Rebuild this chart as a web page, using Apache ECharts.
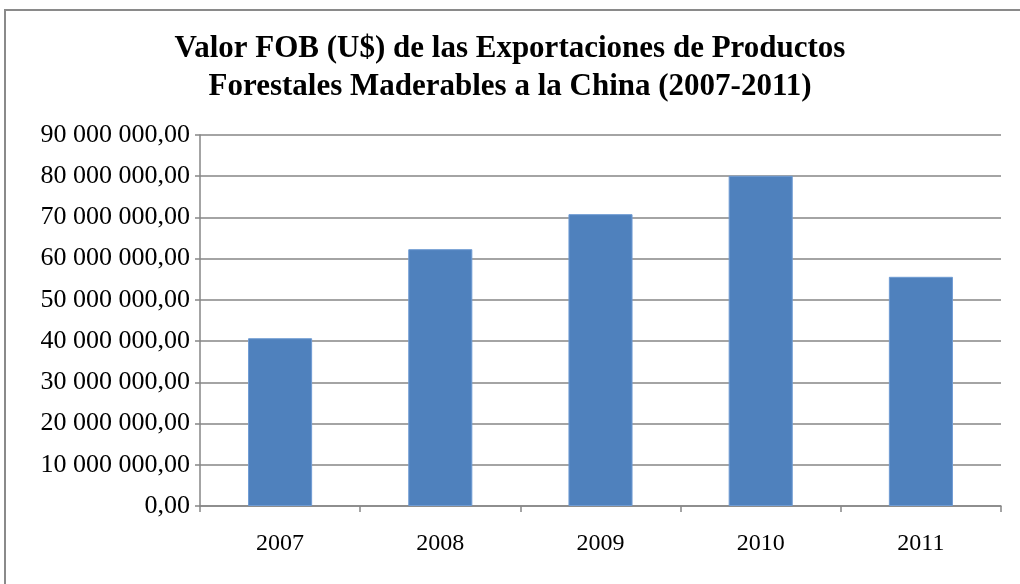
<!DOCTYPE html>
<html><head><meta charset="utf-8">
<script src="https://cdn.jsdelivr.net/npm/echarts@6/dist/echarts.min.js"></script>
<style>html,body{margin:0;padding:0;background:#fff}#c{width:1020px;height:584px}
#frame{position:absolute;left:4px;top:9px;width:1030px;height:600px;border:2px solid #8a8a8a;box-sizing:border-box;pointer-events:none}</style>
</head><body><div id="c"></div><div id="frame"></div>
<script>
const titleLines = ["Valor FOB (U$) de las Exportaciones de Productos", "Forestales Maderables a la China (2007-2011)"];
const categories = ["2007", "2008", "2009", "2010", "2011"];
const values = [40700000, 62300000, 70800000, 80100000, 55600000];
const yMin = 0, yMax = 90000000, yStep = 10000000;

function fmt(v){
  const s = Math.round(v).toString().replace(/\B(?=(\d{3})+(?!\d))/g, " ");
  return s + ",00";
}
const font = "'Liberation Serif', 'DejaVu Serif', serif";
const chart = echarts.init(document.getElementById('c'), null, {renderer:'canvas'});
chart.setOption({
  animation:false,
  backgroundColor:'#fff',
  title:{text: titleLines.join("\n"), left:'center', top:25,
    textStyle:{fontFamily:font, fontWeight:'bold', fontSize:31, color:'#000', lineHeight:38}},
  grid:{left:200, right:19, top:135, bottom:78, containLabel:false},
  xAxis:{type:'category', data:categories,
    axisLine:{lineStyle:{color:'#868686', width:1.5}},
    axisTick:{show:true, alignWithLabel:false, length:6, lineStyle:{color:'#868686', width:1.5}},
    axisLabel:{fontFamily:font, fontSize:24, color:'#000', margin:26}},
  yAxis:{type:'value', min:yMin, max:yMax, interval:yStep,
    axisLine:{show:true, lineStyle:{color:'#868686', width:1.5}},
    axisTick:{show:true, length:5, lineStyle:{color:'#868686', width:1.5}},
    splitLine:{lineStyle:{color:'#868686', width:1.5}},
    axisLabel:{fontFamily:font, fontSize:26, color:'#000', margin:10, formatter:fmt}},
  series:[{type:'bar', data:values, barCategoryGap:'60%',
    itemStyle:{color:'#4f81bd', borderColor:'#6f9bd3', borderWidth:1}}]
});
</script></body></html>
